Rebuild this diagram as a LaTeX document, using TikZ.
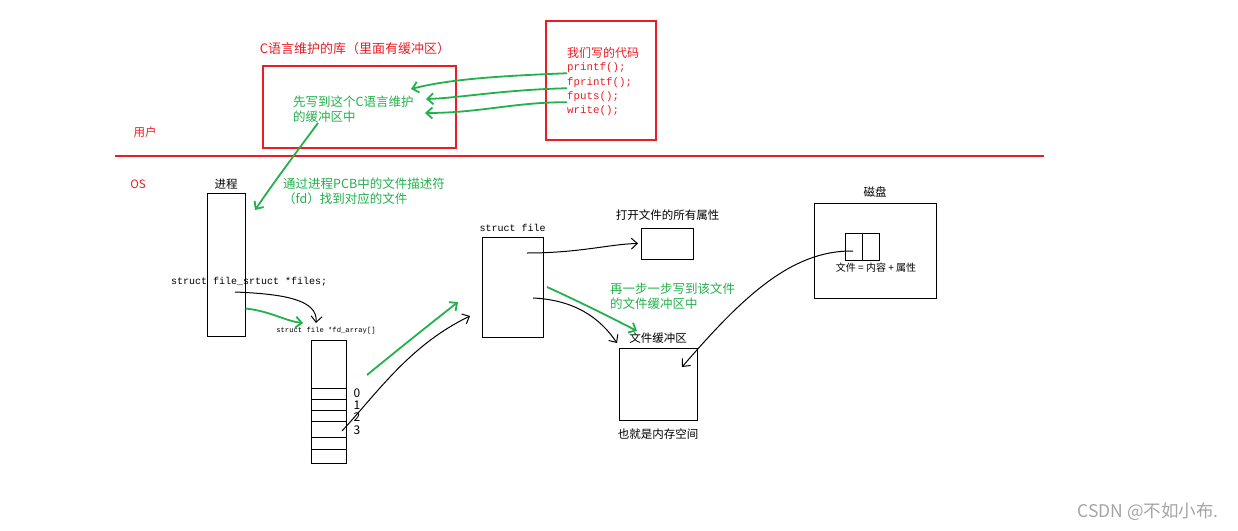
\documentclass[tikz,border=0pt]{standalone}
\usepackage{fontspec}
\setmainfont{Noto Sans CJK SC}
\setmonofont{Liberation Mono}
\usetikzlibrary{arrows.meta,positioning}

\definecolor{penred}{RGB}{237,28,36}
\definecolor{pengreen}{RGB}{34,177,76}
\definecolor{markgray}{RGB}{165,165,165}

\tikzset{
  box/.style={draw,line width=1pt,inner sep=0pt},
  redbox/.style={draw=penred,line width=2pt,inner sep=0pt},
  tag/.style={inner sep=0pt,font=\fontsize{11.5}{13}\selectfont},
  redtag/.style={tag,text=penred},
  greentag/.style={inner sep=0pt,text=pengreen,align=left,font=\fontsize{12.5}{15}\selectfont},
  mono/.style={inner sep=0pt,font=\fontsize{10}{12}\ttfamily},
  redmono/.style={mono,text=penred,font=\fontsize{10.8}{12}\ttfamily},
  tinymono/.style={mono,font=\fontsize{7.2}{9}\ttfamily},
  sketch/.style={line width=1pt,-{Straight Barb[length=6pt,width=11pt]}},
  greensketch/.style={sketch,draw=pengreen,line width=1.8pt},
}

\begin{document}
\begin{tikzpicture}[x=1pt,y=-1pt]
\useasboundingbox[fill=white] (0,0) rectangle (1238,530);

% user space: the C library and our code
\node[redtag,font=\fontsize{13}{15}\selectfont] (libtitle) at (355,49) {C语言维护的库（里面有缓冲区）};
\node[redbox,minimum width=193pt,minimum height=82pt] (lib) at (359.5,107) {};
\node[greentag,anchor=west] (libnote) at (293,109.5) {先写到这个C语言维护\\的缓冲区中};

\node[redbox,minimum width=110pt,minimum height=119pt] (mycode) at (601,80.5) {};
\node[redtag,font=\fontsize{12}{14}\selectfont] (mycodetitle) at (603,53) {我们写的代码};
\node[redmono,anchor=west] (printf) at (567,68) {printf();};
\node[redmono,anchor=west] (fprintf) at (567,83) {fprintf();};
\node[redmono,anchor=west] (fputs) at (567,97) {fputs();};
\node[redmono,anchor=west] (write) at (567,111) {write();};

\coordinate (libin1) at (411,89);
\coordinate (libin2) at (426,99);
\coordinate (libin3) at (425,113);
\draw[greensketch] (printf.south west) .. controls (500,76) and (450,79) .. (libin1);
\draw[greensketch] (fprintf.south west) .. controls (500,90) and (460,98) .. (libin2);
\draw[greensketch] (fputs.south west) .. controls (515,102) and (480,113) .. (libin3);

% user / OS border
\node[redtag] (user) at (145,132) {用户};
\coordinate (splitL) at (115,156);
\coordinate (splitR) at (1044,156);
\draw[penred,line width=2pt] (splitL) -- (splitR);
\node[redtag] (os) at (138,184) {OS};

% process
\node[box,minimum width=38pt,minimum height=143pt] (proc) at (226,264.5) {};
\node[tag,above=3pt of proc] (proctitle) {进程};
\node[greentag,anchor=west] (pcbnote) at (283,191) {通过进程PCB中的文件描述符\\（fd）找到对应的文件};
\coordinate (procin) at (255,210);
\draw[greensketch] ([xshift=25pt]libnote.south west) .. controls (292,158) and (272,185) .. (procin);

\node[mono,anchor=west] (files) at (171,282) {struct file\_srtuct *files;};
\coordinate (filesptr) at (235,292);
\coordinate (fdtop) at (316,323);
\coordinate (fdin) at (303,323);
\draw[sketch] (filesptr) .. controls (285,294) and (318,300) .. (fdtop);
\draw[greensketch] ([yshift=-44pt]proc.east) .. controls (270,311) and (285,321) .. (fdin);

% fd array
\node[tinymono] (fdtitle) at (326,331) {struct file *fd\_array[]};
\node[box,minimum width=35pt,minimum height=123pt] (fdarr) at (328.5,401.5) {};
\foreach \y in {388,399,410,421,437,449}{%
    \draw[line width=1pt] (fdarr.west |- 0,\y) -- (fdarr.east |- 0,\y);
}
\foreach \d/\y in {0/393,1/405,2/417,3/430}{%
    \node[tag,font=\fontsize{12}{13}\selectfont] (fd\d) at (357,\y) {\d};
}

% struct file
\node[box,minimum width=61pt,minimum height=100pt] (sfile) at (512.5,287) {};
\node[mono,above=5pt of sfile] (sfiletitle) {struct file};
\coordinate (gstart) at (367,375);
\coordinate (slot3) at (342,431);
\coordinate (sfin1) at (458,302);
\coordinate (sfin2) at (470,316);
\draw[greensketch] (gstart) .. controls (395,352) and (425,328) .. (sfin1);
\draw[sketch] (slot3) .. controls (378,392) and (410,345) .. (sfin2);

% attributes
\node[box,minimum width=52pt,minimum height=31pt] (attr) at (667.5,243.5) {};
\node[tag,above=7pt of attr] (attrtitle) {打开文件的所有属性};
\coordinate (sfattr) at (527,253);
\draw[sketch] (sfattr) .. controls (580,253) and (610,244) .. ([xshift=-3pt]attr.west);

% file buffer
\node[box,minimum width=78pt,minimum height=72pt] (fbuf) at (658,384) {};
\node[tag,above=4pt of fbuf] (fbuftitle) {文件缓冲区};
\node[tag,below=8pt of fbuf] (fbufnote) {也就是内存空间};
\node[greentag,anchor=west] (writenote) at (610,296) {再一步一步写到该文件\\的文件缓冲区中};
\coordinate (sfbuf) at (533,298);
\coordinate (sfgreen) at (547,287);
\coordinate (fbufin1) at (617,343);
\coordinate (fbufin2) at (637,331);
\draw[sketch] (sfbuf) .. controls (575,300) and (600,318) .. (fbufin1);
\draw[greensketch] (sfgreen) .. controls (580,302) and (612,318) .. (fbufin2);

% disk
\node[box,minimum width=122pt,minimum height=95pt] (disk) at (875,250.5) {};
\node[tag,above=5pt of disk] (disktitle) {磁盘};
\node[box,minimum width=34pt,minimum height=27pt] (dfile) at (862,246.5) {};
\draw[line width=1pt] (dfile.north) -- (dfile.south);
\node[tag,font=\fontsize{10}{11}\selectfont] (dfilenote) at (876,268) {文件\ =\ 内容\ +\ 属性};
\coordinate (dfileptr) at (853,251);
\coordinate (fbufin3) at (682,367);
\draw[sketch] (dfileptr) .. controls (790,250) and (740,300) .. (fbufin3);

\node[inner sep=0pt,text=markgray,font=\fontsize{17.5}{19}\selectfont] (mark) at (1148,512) {CSDN @不如小布.};
\end{tikzpicture}
\end{document}
